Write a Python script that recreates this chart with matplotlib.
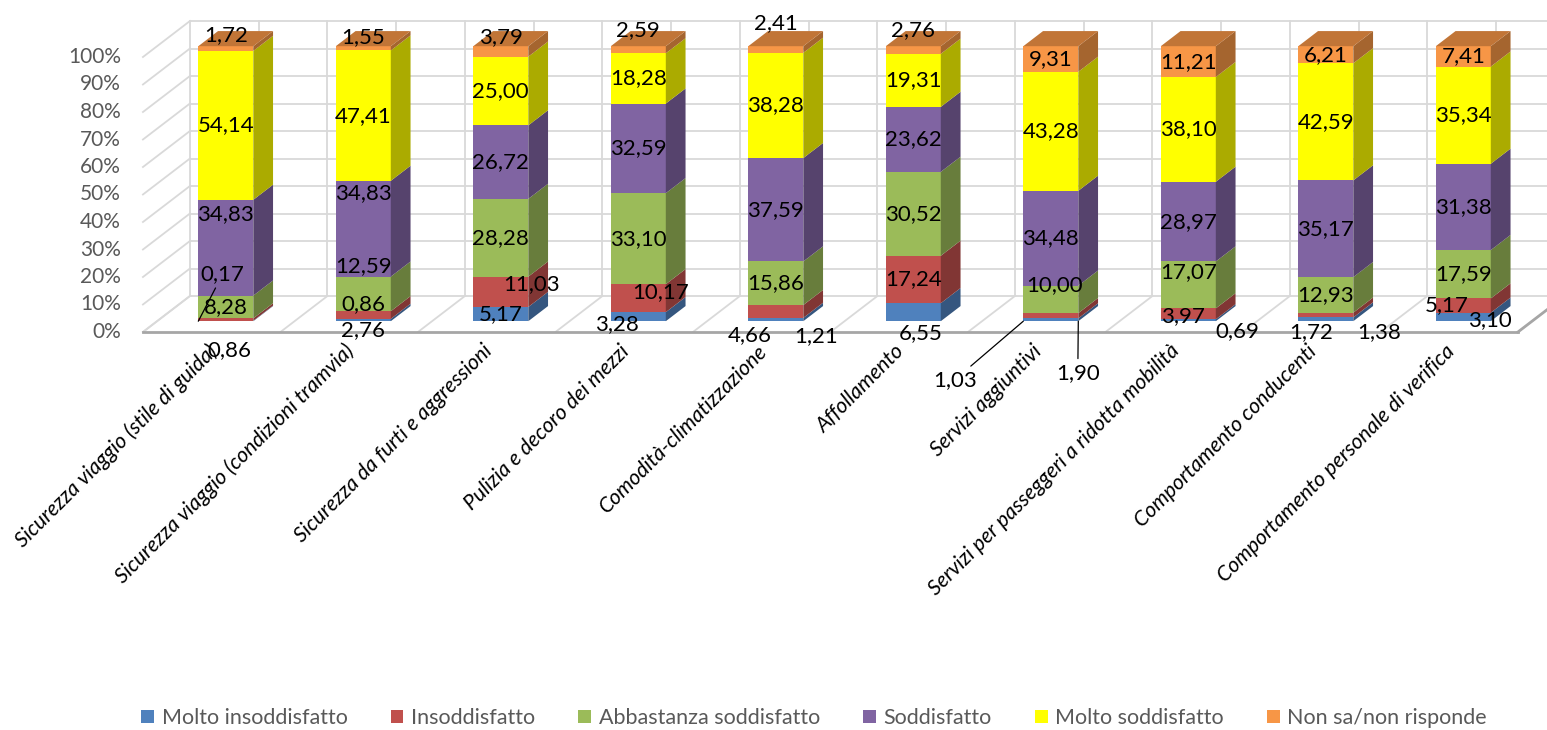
import matplotlib
matplotlib.use("Agg")
import matplotlib.pyplot as plt
from matplotlib.patches import Polygon, Patch
import numpy as np

# ---------------- data ----------------
categories = [
    "Sicurezza viaggio (stile di guida)",
    "Sicurezza viaggio (condizioni tramvia)",
    "Sicurezza da furti e aggressioni",
    "Pulizia e decoro dei mezzi",
    "Comodità-climatizzazione",
    "Affollamento",
    "Servizi aggiuntivi",
    "Servizi per passeggeri a ridotta mobilità",
    "Comportamento conducenti",
    "Comportamento personale di verifica",
]
series_names = ["Molto insoddisfatto", "Insoddisfatto", "Abbastanza soddisfatto",
                "Soddisfatto", "Molto soddisfatto", "Non sa/non risponde"]
molto_insoddisfatto = [0.17, 0.86, 5.17, 3.28, 1.21, 6.55, 1.03, 0.69, 1.38, 3.10]
insoddisfatto = [0.86, 2.76, 11.03, 10.17, 4.66, 17.24, 1.90, 3.97, 1.72, 5.17]
abbastanza_soddisfatto = [8.28, 12.59, 28.28, 33.10, 15.86, 30.52, 10.00, 17.07, 12.93, 17.59]
soddisfatto = [34.83, 34.83, 26.72, 32.59, 37.59, 23.62, 34.48, 28.97, 35.17, 31.38]
molto_soddisfatto = [54.14, 47.41, 25.00, 18.28, 38.28, 19.31, 43.28, 38.10, 42.59, 35.34]
non_sa = [1.72, 1.55, 3.79, 2.59, 2.41, 2.76, 9.31, 11.21, 6.21, 7.41]
y_ticks = [0, 10, 20, 30, 40, 50, 60, 70, 80, 90, 100]

series = [molto_insoddisfatto, insoddisfatto, abbastanza_soddisfatto,
          soddisfatto, molto_soddisfatto, non_sa]
colors = ["#4F81BD", "#C0504D", "#9BBB59", "#8064A2", "#FFFF00", "#F79646"]

# ---------------- style / geometry ----------------
W, H, DPI = 1547, 730, 100
FONT = ["Lato", "DejaVu Sans"]
PX_U, PX_P = 137.5, 2.75          # pixels per category / per percent
ORX, ORY = 225.8, 321.2            # pixel position of first bar, 0 %, bar front plane
D0 = 0.30                          # depth of bar front
KX, KY = 47.0 / PX_U, 36.0 / PX_P  # shift for a full depth unit
BAR_DEPTH = 0.42
BW = 0.40
GRID = "#D9D9D9"
AXIS = "#A6A6A6"
LABEL_FS = 16

# label offsets (pixels: dx right, dy down) for displaced Excel labels
label_off = {
    (0, 0): (-3, -47), (0, 1): (4, 31), (0, 3): (0, -34), (0, 5): (0, -13),
    (1, 0): (0, -16), (1, 1): (0, 15), (1, 2): (0, -28), (1, 3): (0, -36), (1, 5): (0, -11),
    (2, 1): (31, -8), (2, 5): (0, -14),
    (3, 0): (-21, 7), (3, 1): (22, -6), (3, 5): (0, -20),
    (4, 0): (40, 17), (4, 1): (-26, 24), (4, 5): (0, -26),
    (5, 0): (7, 21), (5, 5): (0, -20),
    (6, 0): (-96, 60), (6, 1): (27, 57), (6, 2): (4, -14),
    (7, 0): (49, 11), (7, 1): (-5, 2), (7, 2): (0, -13),
    (8, 0): (53, 13), (8, 1): (-15, 17),
    (9, 0): (27, 3), (9, 1): (-17, 0),
}
# leader lines: (bar, series) -> which bottom corner of the bar front it points to
leaders = {(0, 0): -1, (6, 0): -1, (6, 1): 1}


def proj(u, p, d):
    """oblique projection of (category, percent, depth) to data coords"""
    return (u + (d - D0) * KX, p + (d - D0) * KY)


def shade(c, f):
    r, g, b = matplotlib.colors.to_rgb(c)
    return (r * f, g * f, b * f)


fig = plt.figure(figsize=(W / DPI, H / DPI), dpi=DPI)
ax = fig.add_axes([0, 0, 1, 1])
ax.set_xlim(-ORX / PX_U, (W - ORX) / PX_U)
ax.set_ylim((ORY - H) / PX_P, ORY / PX_P)
ax.axis("off")

n = len(categories)
left_u, right_u = -0.5, n - 0.5

# back wall horizontal gridlines + left wall diagonals
for t in y_ticks:
    a = proj(left_u, t, 1.0)
    b = proj(right_u + 1.0, t, 1.0)
    ax.plot([a[0], b[0]], [a[1], b[1]], color=GRID, lw=1.3, zorder=1)
    f = proj(left_u, t, 0.0)
    ax.plot([f[0], a[0]], [f[1], a[1]], color=GRID, lw=1.3, zorder=1)
    ax.annotate(f"{t}%", xy=f, xytext=(-22, 0), textcoords="offset pixels",
                ha="right", va="center", fontsize=15, color="#595959", family=FONT)
# back wall verticals (category boundaries and centres)
for k in np.arange(left_u, right_u + 0.01, 0.5):
    a = proj(k, 0, 1.0)
    b = proj(k, 100, 1.0)
    ax.plot([a[0], b[0]], [a[1], b[1]], color=GRID, lw=1.3, zorder=1)
# floor diagonals
for k in np.arange(left_u, right_u + 0.01, 1.0):
    a = proj(k, 0, 0.0)
    b = proj(k, 0, 1.0)
    ax.plot([a[0], b[0]], [a[1], b[1]], color=GRID, lw=1.3, zorder=1)
# front floor edge
a = proj(left_u, 0, 0.0)
b = proj(right_u, 0, 0.0)
ax.plot([a[0], b[0]], [a[1], b[1]], color=AXIS, lw=2.0, zorder=1.5)
c = proj(right_u, 0, 1.0)
ax.plot([b[0], c[0]], [b[1], c[1]], color=AXIS, lw=2.0, zorder=1.5)

# bars
vals = np.array(series, dtype=float)
vals = vals / vals.sum(axis=0) * 100.0
x = np.arange(n)
bottoms = np.zeros(n)
bdx, bdy = BAR_DEPTH * KX, BAR_DEPTH * KY
for s in range(len(series)):
    h = vals[s]
    ax.bar(x, h, width=BW, bottom=bottoms, color=colors[s], linewidth=0, zorder=3)
    for i in range(n):
        xr = x[i] + BW / 2
        y0, y1 = bottoms[i], bottoms[i] + h[i]
        ax.add_patch(Polygon([(xr, y0), (xr + bdx, y0 + bdy), (xr + bdx, y1 + bdy), (xr, y1)],
                             closed=True, facecolor=shade(colors[s], 0.67), lw=0, zorder=3))
        if s == len(series) - 1:
            xl = x[i] - BW / 2
            ax.add_patch(Polygon([(xl, y1), (xr, y1), (xr + bdx, y1 + bdy), (xl + bdx, y1 + bdy)],
                                 closed=True, facecolor=shade(colors[s], 0.78), lw=0, zorder=3))
        # data label
        dx, dy = label_off.get((i, s), (0, 0))
        txt = f"{series[s][i]:.2f}".replace(".", ",")
        cx, cy = x[i], (y0 + y1) / 2
        if (i, s) in leaders:
            side = leaders[(i, s)]
            ax.annotate(txt, xy=(x[i] + side * BW / 2, 0),
                        xytext=(cx + dx / PX_U, cy - dy / PX_P), textcoords="data",
                        ha="center", va="center", fontsize=LABEL_FS, color="black",
                        family=FONT, zorder=6,
                        arrowprops=dict(arrowstyle="-", color="black", lw=0.9,
                                        shrinkA=1, shrinkB=0))
        else:
            ax.annotate(txt, xy=(cx, cy), xytext=(dx, -dy),
                        textcoords="offset pixels", ha="center", va="center",
                        fontsize=LABEL_FS, color="black", family=FONT, zorder=6)
    bottoms = bottoms + h

# category labels (lying on the floor, hence slanted)
for i, cat in enumerate(categories):
    p = proj(x[i], 0, 0.0)
    ax.annotate(cat, xy=p, xytext=(2, -16), textcoords="offset pixels",
                rotation=45, rotation_mode="anchor", ha="right", va="center",
                fontsize=15.3, style="italic", color="black", family=FONT)

handles = [Patch(facecolor=c, edgecolor="none", label=l) for c, l in zip(colors, series_names)]
fig.legend(handles=handles, loc="center", bbox_to_anchor=(814 / W, 1 - 718 / H), ncol=6,
           frameon=False, handlelength=0.6, handleheight=0.6, handletextpad=0.35,
           columnspacing=2.0, prop={"family": FONT, "size": 15.5}, labelcolor="#595959")

fig.savefig("out.png", dpi=DPI)
